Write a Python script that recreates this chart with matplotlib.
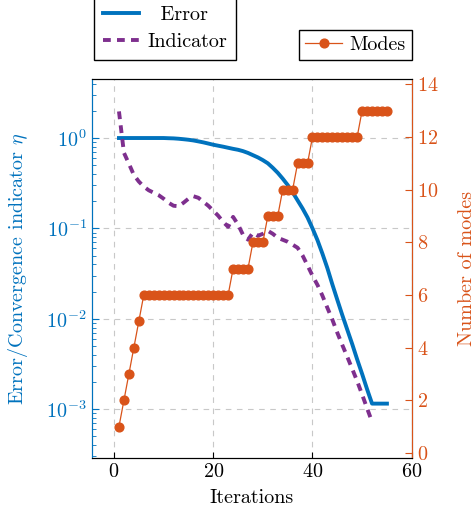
import matplotlib
matplotlib.use("Agg")
import matplotlib.pyplot as plt
from matplotlib.ticker import LogLocator, NullFormatter

plt.rcParams['font.family'] = 'serif'
plt.rcParams['font.serif'] = ['cmr10']
plt.rcParams['mathtext.fontset'] = 'cm'
plt.rcParams['axes.formatter.use_mathtext'] = True
plt.rcParams['axes.unicode_minus'] = False
plt.rcParams['font.size'] = 14.5

BLUE = '#0072BD'
ORANGE = '#D95319'
PURPLE = '#7E2F8E'

# error per iteration
err_iter = list(range(1, 56))
error = [1.0, 1.0, 1.0, 1.0, 1.0, 1.0, 1.0, 1.0, 1.0, 1.0,
         0.995, 0.991, 0.982, 0.970, 0.957, 0.940, 0.918, 0.895, 0.869, 0.843,
         0.822, 0.802, 0.780, 0.759, 0.741, 0.716, 0.684, 0.646, 0.610, 0.569,
         0.525, 0.468, 0.412, 0.355, 0.302, 0.251, 0.204, 0.166, 0.132, 0.100,
         0.0741, 0.0525, 0.0363, 0.0240, 0.0162, 0.0110, 0.00759, 0.00525, 0.00355, 0.00245,
         0.00166, 0.00115, 0.00115, 0.00115, 0.00115]

# convergence indicator per iteration
ind_iter = list(range(1, 53))
indicator = [1.97, 0.687, 0.52, 0.39, 0.33, 0.29, 0.264, 0.248, 0.233, 0.213,
             0.192, 0.178, 0.176, 0.192, 0.213, 0.227, 0.218, 0.197, 0.178, 0.157,
             0.138, 0.118, 0.104, 0.134, 0.11, 0.085, 0.075, 0.0894, 0.0828, 0.0871,
             0.094, 0.0871, 0.0787, 0.0748, 0.0711, 0.066, 0.061, 0.0501, 0.0389, 0.0299,
             0.0237, 0.018, 0.0132, 0.00977, 0.007, 0.00513, 0.0038, 0.00279, 0.00204, 0.00145,
             0.00102, 0.000724]

# number of modes per iteration
modes_iter = list(range(1, 56))
modes = [1, 2, 3, 4, 5] + [6] * 18 + [7] * 4 + [8] * 3 + [9] * 3 + [10] * 3 + [11] * 3 \
        + [12] * 10 + [13] * 6

fig = plt.figure(figsize=(4.76, 5.15), dpi=100)
ax = fig.add_axes([0.1926, 0.1113, 0.6724, 0.7353])
ax2 = ax.twinx()

l1, = ax.plot(err_iter, error, color=BLUE, lw=2.8, label='  Error')
l2, = ax.plot(ind_iter, indicator, color=PURPLE, lw=2.8, linestyle=(0, (2, 1.6)),
              dash_capstyle='butt', label='Indicator')
l3, = ax2.plot(modes_iter, modes, color=ORANGE, lw=0.9, marker='o', ms=6.3,
               markeredgecolor=ORANGE, label='Modes')

ax.set_yscale('log')
ax.set_xlim(-4.5, 60)
ax.set_ylim(2.9e-4, 4.5)
ax2.set_ylim(-0.18, 14.2)
ax.set_xticks([0, 20, 40, 60])
ax2.set_yticks(range(0, 15, 2))
ax.yaxis.set_major_locator(LogLocator(base=10, numticks=10))
ax.yaxis.set_minor_locator(LogLocator(base=10, subs=range(2, 10), numticks=20))
ax.yaxis.set_minor_formatter(NullFormatter())

ax.grid(True, which='major', color='#c8c8c8', linestyle=(0, (5, 5)), lw=0.8)
ax.set_axisbelow(True)

ax.set_xlabel('Iterations', labelpad=6)
ax.set_ylabel(r'Error/Convergence indicator $\eta$', color=BLUE, labelpad=12)
ax2.set_ylabel('Number of modes', color=ORANGE, labelpad=14)

ax.tick_params(axis='x', direction='in', length=4)
ax.tick_params(axis='y', which='both', direction='in', colors=BLUE)
ax.tick_params(axis='y', which='major', length=5)
ax.tick_params(axis='y', which='minor', length=3)
ax2.tick_params(axis='y', direction='in', colors=ORANGE, length=5)
ax.spines['left'].set_color(BLUE)
ax2.spines['left'].set_color(BLUE)
ax2.spines['right'].set_color(ORANGE)

fig.legend(handles=[l1, l2], loc='lower right', bbox_to_anchor=(0.4958, 0.8835),
           bbox_transform=fig.transFigure, borderaxespad=0, fancybox=False,
           edgecolor='black', framealpha=1, handlelength=1.8, handletextpad=0.4,
           labelspacing=0.45, borderpad=0.45)
fig.legend(handles=[l3], loc='lower right', bbox_to_anchor=(0.8655, 0.8835),
           bbox_transform=fig.transFigure, borderaxespad=0, fancybox=False,
           edgecolor='black', framealpha=1, handlelength=1.8, handletextpad=0.4,
           borderpad=0.3)

fig.savefig('out.png', dpi=100)
